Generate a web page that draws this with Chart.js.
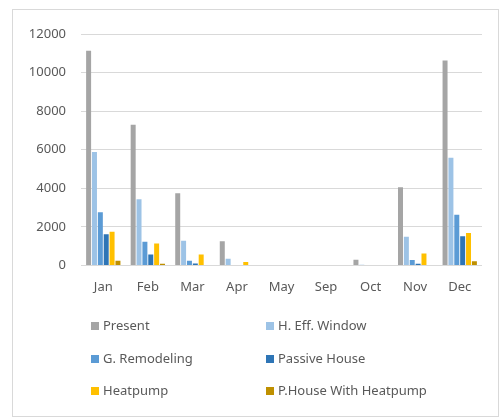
<!DOCTYPE html>
<html>
<head>
<meta charset="utf-8">
<script src="https://cdn.jsdelivr.net/npm/chart.js@4/dist/chart.umd.min.js"></script>
<style>
  html, body { margin: 0; padding: 0; background: #ffffff; }
  #wrap { position: relative; width: 503px; height: 419px; }
</style>
</head>
<body>
<div id="wrap"><canvas id="chart" width="503" height="419"></canvas></div>
<script>
// Monthly heating demand by retrofit scenario
const months = ['Jan', 'Feb', 'Mar', 'Apr', 'May', 'Sep', 'Oct', 'Nov', 'Dec'];
const present        = [11130, 7300, 3740, 1250, 0, 0, 290, 4050, 10620];
const highEffWindow  = [5880, 3430, 1280, 350, 0, 0, 40, 1490, 5580];
const greenRemodel   = [2750, 1230, 240, 20, 0, 0, 0, 280, 2630];
const passiveHouse   = [1610, 570, 100, 0, 0, 0, 0, 90, 1510];
const heatpump       = [1750, 1140, 570, 170, 0, 0, 0, 620, 1680];
const passiveWithHP  = [240, 90, 0, 0, 0, 0, 0, 0, 220];
const yTicks = [0, 2000, 4000, 6000, 8000, 10000, 12000];

const seriesNames = ['Present', 'H. Eff. Window', 'G. Remodeling', 'Passive House', 'Heatpump', 'P.House With Heatpump'];
const seriesData = [present, highEffWindow, greenRemodel, passiveHouse, heatpump, passiveWithHP];
const seriesColors = ['#A5A5A5', '#9DC3E6', '#5B9BD5', '#2E75B6', '#FFC000', '#BF9000'];

const textColor = '#595959';
const fontFamily = "'Noto Sans', 'DejaVu Sans', sans-serif";

// Outer chart frame
const framePlugin = {
  id: 'frame',
  beforeDraw(chart) {
    const ctx = chart.ctx;
    ctx.save();
    ctx.fillStyle = '#ffffff';
    ctx.fillRect(0, 0, chart.width, chart.height);
    ctx.strokeStyle = '#D9D9D9';
    ctx.lineWidth = 1;
    ctx.strokeRect(12.5, 9.5, 486, 407);
    ctx.restore();
  }
};

// Two-column legend below the plot
const gridLegendPlugin = {
  id: 'gridLegend',
  afterDraw(chart) {
    const ctx = chart.ctx;
    const colX = [91, 266];
    const rowY = [326, 359, 391];
    ctx.save();
    ctx.font = '13px ' + fontFamily;
    ctx.textBaseline = 'middle';
    ctx.textAlign = 'left';
    chart.data.datasets.forEach((ds, i) => {
      const x = colX[i % 2];
      const y = rowY[Math.floor(i / 2)];
      ctx.fillStyle = ds.backgroundColor;
      ctx.fillRect(x, y - 4, 8, 8);
      ctx.fillStyle = textColor;
      ctx.fillText(ds.label, x + 12, y);
    });
    ctx.restore();
  }
};

new Chart(document.getElementById('chart'), {
  type: 'bar',
  data: {
    labels: months,
    datasets: seriesNames.map((name, i) => ({
      label: name,
      data: seriesData[i],
      backgroundColor: seriesColors[i],
      borderWidth: 0,
      categoryPercentage: 0.79,
      barPercentage: 0.85
    }))
  },
  options: {
    responsive: false,
    animation: false,
    devicePixelRatio: 1,
    layout: { padding: { top: 34, right: 21, bottom: 118, left: 0 } },
    plugins: {
      legend: { display: false },
      tooltip: { enabled: false }
    },
    scales: {
      x: {
        grid: { display: false },
        border: { display: false },
        ticks: {
          color: textColor,
          font: { family: fontFamily, size: 13 },
          padding: 6,
          maxRotation: 0
        }
      },
      y: {
        min: 0,
        max: 12000,
        afterBuildTicks(scale) { scale.ticks = yTicks.map(v => ({ value: v })); },
        grid: { color: '#D9D9D9', lineWidth: 1, drawTicks: false },
        border: { display: false },
        ticks: {
          color: textColor,
          font: { family: fontFamily, size: 13 },
          padding: 15,
          callback: (v) => String(v)
        },
        afterFit(scale) { scale.width = 81; }
      }
    }
  },
  plugins: [framePlugin, gridLegendPlugin]
});
</script>
</body>
</html>
